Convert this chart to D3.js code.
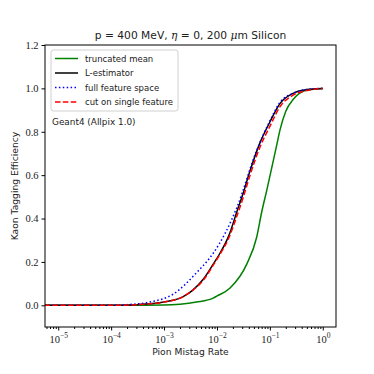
<!DOCTYPE html>
<html>
<head>
<meta charset="utf-8">
<script src="https://cdn.jsdelivr.net/npm/d3@7"></script>
<style>
  body { margin: 0; background: #fff; }
  text { font-family: "DejaVu Sans", sans-serif; }
  .tick text, .tk { font-family: "Liberation Serif", "DejaVu Serif", serif; }
</style>
</head>
<body>
<div id="chart"></div>
<script>
    var width = 374,
        height = 374;

    // mistag rate (x) and kaon efficiency (y)
    var truncX = [5.5e-6, 1e-4, 1e-3, 2e-3, 4.1e-3, 8.5e-3, 0.0099, 0.0177, 0.0366, 0.0565, 0.0701, 0.0873, 0.135, 0.156, 0.2, 0.278, 0.35, 0.5, 1.0];
    var truncY = [0, 0, 0.001, 0.005, 0.015, 0.033, 0.042, 0.08, 0.19, 0.315, 0.43, 0.53, 0.74, 0.81, 0.895, 0.95, 0.975, 0.992, 1.0];

    var lestX = [5.5e-6, 1e-4, 3e-4, 1e-3, 2.3e-3, 3.5e-3, 5.5e-3, 8.5e-3, 0.0114, 0.0167, 0.0237, 0.0316, 0.0422, 0.0652, 0.1, 0.155, 0.28, 0.5, 1.0];
    var lestY = [0, 0, 0.003, 0.015, 0.04, 0.07, 0.12, 0.19, 0.24, 0.32, 0.43, 0.52, 0.62, 0.75, 0.845, 0.93, 0.978, 0.995, 1.0];

    var fullX = [5.5e-6, 1e-4, 2e-4, 5.4e-4, 1.5e-3, 4.1e-3, 8.5e-3, 0.0145, 0.0237, 0.0565, 0.1, 0.155, 0.28, 0.5, 1.0];
    var fullY = [0, 0, 0.003, 0.015, 0.052, 0.15, 0.24, 0.335, 0.45, 0.715, 0.85, 0.935, 0.978, 0.995, 1.0];

    var cutX = [5.5e-6, 1e-4, 3e-4, 1e-3, 2.3e-3, 3.5e-3, 5.5e-3, 8.5e-3, 0.0114, 0.0167, 0.0237, 0.0316, 0.0422, 0.0652, 0.1, 0.155, 0.28, 0.5, 1.0];
    var cutY = [0, 0, 0.003, 0.015, 0.04, 0.07, 0.115, 0.185, 0.235, 0.31, 0.41, 0.5, 0.6, 0.73, 0.825, 0.915, 0.97, 0.99, 1.0];

    var seriesNames = ['truncated mean', 'L-estimator', 'full feature space', 'cut on single feature'];
    var yTicks = [0.0, 0.2, 0.4, 0.6, 0.8, 1.0, 1.2];
    var xExponents = [-5, -4, -3, -2, -1, 0];

    var plotL = 45, plotR = 336, plotT = 45, plotB = 327;

    var x = d3.scaleLog().domain([Math.pow(10, -5.25), Math.pow(10, 0.25)]).range([plotL, plotR]);
    var y = d3.scaleLinear().domain([-0.1, 1.2]).range([plotB, plotT]);

    var svg = d3.select('#chart').append('svg')
        .attr('width', width)
        .attr('height', height);

    var series = [
        {name: seriesNames[0], xs: truncX, ys: truncY, color: '#008000', dash: null},
        {name: seriesNames[1], xs: lestX, ys: lestY, color: '#000000', dash: null},
        {name: seriesNames[2], xs: fullX, ys: fullY, color: '#0000ff', dash: '1.5,2.4'},
        {name: seriesNames[3], xs: cutX, ys: cutY, color: '#ff0000', dash: '5.5,2.4'}
    ];

    var line = d3.line()
        .x(function(d){ return x(d[0]); })
        .y(function(d){ return y(d[1]); })
        .curve(d3.curveMonotoneX);

    var plot = svg.append('g');
    plot.append('clipPath').attr('id', 'clip')
        .append('rect').attr('x', plotL).attr('y', plotT).attr('width', plotR - plotL).attr('height', plotB - plotT);

    series.forEach(function(s){
        var pts = s.xs.map(function(v, i){ return [v, s.ys[i]]; });
        plot.append('path')
            .attr('clip-path', 'url(#clip)')
            .attr('d', line(pts))
            .attr('fill', 'none')
            .attr('stroke', s.color)
            .attr('stroke-width', 1.5)
            .attr('stroke-dasharray', s.dash);
    });

    // y axis
    var yAxis = svg.append('g')
        .attr('transform', 'translate(' + plotL + ',0)')
        .call(d3.axisLeft(y).tickValues(yTicks).tickFormat(d3.format('.1f')).tickSize(3.5).tickPadding(3));
    yAxis.select('.domain').remove();
    yAxis.selectAll('.tick text').attr('font-size', 10.5).attr('fill', '#222');

    // x axis, major ticks
    var majors = xExponents.map(function(e){ return Math.pow(10, e); });
    var xAxis = svg.append('g')
        .attr('transform', 'translate(0,' + plotB + ')')
        .call(d3.axisBottom(x).tickValues(majors).tickFormat('').tickSize(3.5));
    xAxis.select('.domain').remove();
    xAxis.selectAll('.tick').each(function(d, i){
        var t = d3.select(this).append('text')
            .attr('class', 'tk')
            .attr('y', 15.5)
            .attr('text-anchor', 'middle')
            .attr('fill', '#222')
            .attr('font-size', 10.5);
        t.append('tspan').text('10');
        t.append('tspan').attr('dy', -5).attr('font-size', 7.5)
            .text(xExponents[i] < 0 ? '\u2212' + (-xExponents[i]) : String(xExponents[i]));
    });

    // x axis, minor ticks
    var minors = [];
    for (var e = -6; e <= 0; e++) {
        for (var m = 2; m <= 9; m++) {
            var v = m * Math.pow(10, e);
            if (v >= x.domain()[0] && v <= x.domain()[1]) minors.push(v);
        }
    }
    var xMinor = svg.append('g')
        .attr('transform', 'translate(0,' + plotB + ')')
        .call(d3.axisBottom(x).tickValues(minors).tickFormat('').tickSize(2));
    xMinor.select('.domain').remove();

    // frame
    svg.append('rect')
        .attr('x', plotL).attr('y', plotT)
        .attr('width', plotR - plotL).attr('height', plotB - plotT)
        .attr('fill', 'none').attr('stroke', '#000').attr('stroke-width', 1);

    // title
    var title = svg.append('text')
        .attr('x', (plotL + plotR) / 2).attr('y', 38.5)
        .attr('text-anchor', 'middle')
        .attr('font-size', 10.7).attr('fill', '#222');
    title.append('tspan').text('p = 400 MeV, ');
    title.append('tspan').attr('font-family', '"DejaVu Serif", serif').attr('font-style', 'italic').text('\u03b7');
    title.append('tspan').text(' = 0, 200 ');
    title.append('tspan').attr('font-family', '"DejaVu Serif", serif').attr('font-style', 'italic').text('\u03bc');
    title.append('tspan').text('m Silicon');

    // axis labels
    svg.append('text')
        .attr('x', (plotL + plotR) / 2).attr('y', 355)
        .attr('text-anchor', 'middle')
        .attr('font-size', 9.2).attr('fill', '#222')
        .text('Pion Mistag Rate');
    svg.append('text')
        .attr('transform', 'translate(18,' + ((plotT + plotB) / 2) + ') rotate(-90)')
        .attr('text-anchor', 'middle')
        .attr('font-size', 9.2).attr('fill', '#222')
        .text('Kaon Tagging Efficiency');

    // legend
    var lg = svg.append('g');
    lg.append('rect')
        .attr('x', 51).attr('y', 50).attr('width', 127).attr('height', 61)
        .attr('rx', 2.5)
        .attr('fill', '#fff').attr('fill-opacity', 0.8)
        .attr('stroke', '#d0d0d0').attr('stroke-width', 1);
    series.forEach(function(s, i){
        var yy = 58.5 + i * 14.5;
        lg.append('line')
            .attr('x1', 55).attr('x2', 78).attr('y1', yy).attr('y2', yy)
            .attr('stroke', s.color).attr('stroke-width', 1.5)
            .attr('stroke-dasharray', s.dash);
        lg.append('text')
            .attr('x', 85).attr('y', yy + 3.2)
            .attr('font-size', 8.5).attr('fill', '#222')
            .text(s.name);
    });

    svg.append('text')
        .attr('x', 52).attr('y', 125)
        .attr('font-size', 8.9).attr('fill', '#222')
        .text('Geant4 (Allpix 1.0)');
</script>
</body>
</html>
